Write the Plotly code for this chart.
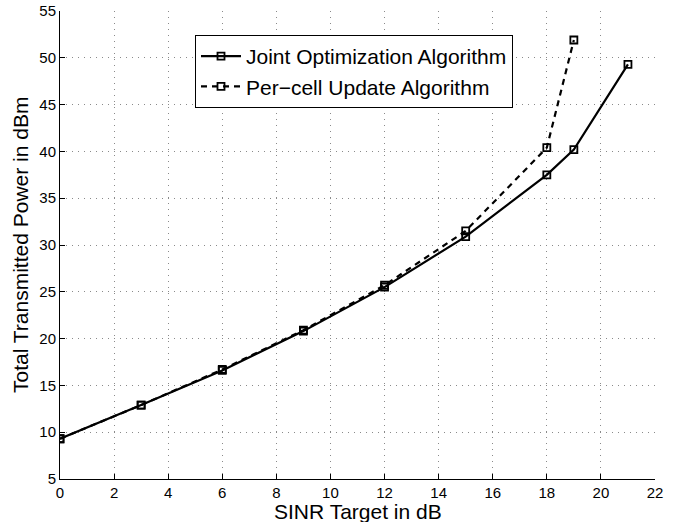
import plotly.graph_objects as go

sinr_joint = [0, 3, 6, 9, 12, 15, 18, 19, 21]
power_joint = [9.3, 12.9, 16.6, 20.8, 25.5, 30.9, 37.5, 40.2, 49.3]
sinr_percell = [0, 3, 6, 9, 12, 15, 18, 19]
power_percell = [9.3, 12.9, 16.7, 20.9, 25.7, 31.5, 40.4, 51.9]

x_ticks = [0, 2, 4, 6, 8, 10, 12, 14, 16, 18, 20, 22]
y_ticks = [5, 10, 15, 20, 25, 30, 35, 40, 45, 50, 55]

FONT = "Liberation Sans, Arial, Helvetica, sans-serif"

fig = go.Figure()
fig.add_trace(go.Scatter(
    x=sinr_joint, y=power_joint, mode="lines+markers",
    name="Joint Optimization Algorithm",
    line=dict(color="black", width=2.2),
    marker=dict(symbol="square-open", size=7, color="black", line=dict(width=1.8)),
))
fig.add_trace(go.Scatter(
    x=sinr_percell, y=power_percell, mode="lines+markers",
    name="Per\u2212cell Update Algorithm",
    line=dict(color="black", width=2.2, dash="6px,5px"),
    marker=dict(symbol="square-open", size=7, color="black", line=dict(width=1.8)),
))

axis_common = dict(
    showgrid=True, gridcolor="#8a8a8a", griddash="1px,5px", gridwidth=1,
    showline=True, linecolor="black", linewidth=1,
    ticks="inside", ticklen=5, tickcolor="black",
    tickfont=dict(family=FONT, size=15, color="black"),
    zeroline=False, mirror=False, automargin=False,
)

# plot area in page pixels: x 60..655, y 11..479 (body margin removed below)
L, R, T, B = 60, 28, 11, 43
PW, PH = 683 - L - R, 522 - T - B

fig.update_layout(
    width=683, height=522,
    margin=dict(l=L, r=R, t=T, b=B),
    paper_bgcolor="white", plot_bgcolor="white",
    font=dict(family=FONT, color="black"),
    xaxis=dict(range=[0, 22], tickvals=x_ticks, **axis_common),
    yaxis=dict(range=[5, 55], tickvals=y_ticks, **axis_common),
    legend=dict(
        x=(195 - L) / PW, y=1 - (35 - T) / PH, xanchor="left", yanchor="top",
        bgcolor="white", bordercolor="black", borderwidth=1,
        font=dict(size=21), tracegroupgap=0, itemwidth=40,
    ),
    showlegend=True,
    annotations=[
        dict(text="SINR Target in dB", xref="paper", yref="paper", x=0.5, y=0,
             xanchor="center", yanchor="middle", yshift=-32, showarrow=False,
             font=dict(size=21, family=FONT, color="black")),
        dict(text="Total Transmitted Power in dBm", xref="paper", yref="paper", x=0, y=0.5,
             xanchor="center", yanchor="middle", xshift=-40, textangle=-90, showarrow=False,
             font=dict(size=21, family=FONT, color="black")),
    ],
)

fig.write_html("out.html", config={"displayModeBar": False},
               post_script="document.body.style.margin='0';")
